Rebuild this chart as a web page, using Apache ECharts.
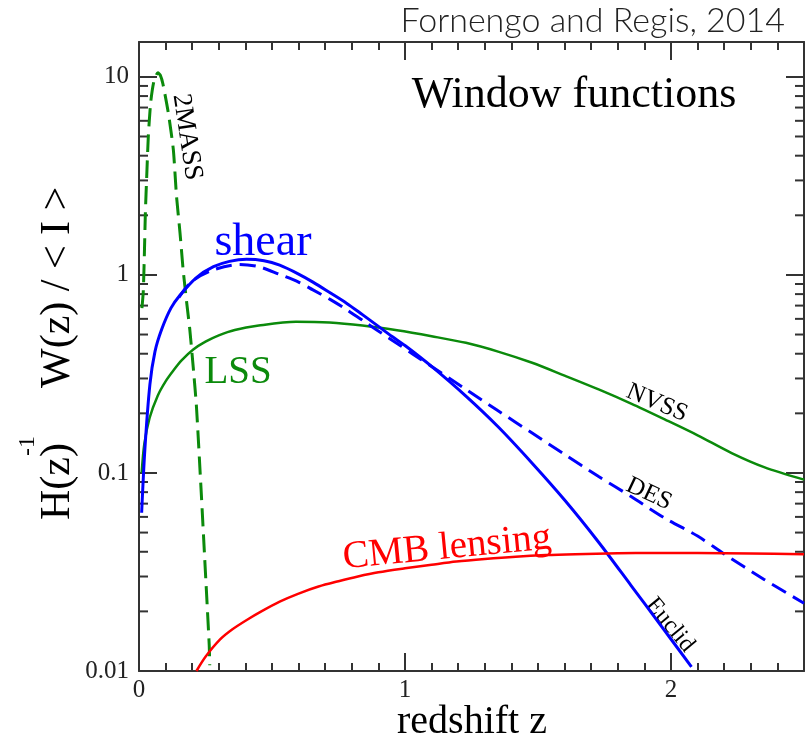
<!DOCTYPE html>
<html>
<head>
<meta charset="utf-8">
<title>Window functions</title>
<script src="https://cdn.jsdelivr.net/npm/echarts@6.0.0/dist/echarts.min.js"></script>
<style>
html, body { margin: 0; padding: 0; background: #fff; }
#main { width: 805px; height: 738px; }
</style>
</head>
<body>
<div id="main"></div>
<script>
var serif = '"Liberation Serif", "DejaVu Serif", serif';

// 2MASS (green dashed)
var massZ = [0.011, 0.016, 0.020, 0.024, 0.029, 0.035, 0.044, 0.056, 0.071, 0.080, 0.090, 0.110, 0.129, 0.141, 0.154, 0.166, 0.179, 0.191, 0.204, 0.216, 0.235, 0.247, 0.264, 0.266];
var massW = [0.68, 0.82, 1.24, 2.07, 3.14, 5.0, 7.44, 9.5, 10.5, 10.2, 9.2, 6.6, 4.3, 2.5, 1.64, 1.06, 0.73, 0.53, 0.34, 0.216, 0.075, 0.037, 0.0135, 0.0107];

// LSS / NVSS (green solid)
var lssZ = [0.01, 0.02, 0.04, 0.07, 0.1, 0.13, 0.16, 0.204, 0.25, 0.3, 0.36, 0.45, 0.59, 0.716, 0.84, 0.97, 1.1, 1.229, 1.35, 1.478, 1.6, 1.728, 1.85, 1.978, 2.1, 2.228, 2.35, 2.5];
var lssW = [0.1, 0.14, 0.19, 0.245, 0.29, 0.33, 0.37, 0.42, 0.46, 0.495, 0.527, 0.555, 0.58, 0.575, 0.555, 0.525, 0.49, 0.454, 0.41, 0.36, 0.31, 0.264, 0.224, 0.186, 0.155, 0.126, 0.107, 0.0925];

// shear, Euclid (blue solid)
var eucZ = [0.01, 0.022, 0.041, 0.06, 0.085, 0.12, 0.154, 0.216, 0.28, 0.34, 0.404, 0.47, 0.529, 0.6, 0.654, 0.72, 0.78, 0.84, 0.904, 0.95, 1.0, 1.1, 1.228, 1.35, 1.478, 1.6, 1.728, 1.85, 1.96, 2.077];
var eucW = [0.063, 0.131, 0.28, 0.41, 0.53, 0.68, 0.79, 0.97, 1.10, 1.17, 1.20, 1.18, 1.12, 1.01, 0.92, 0.81, 0.72, 0.63, 0.545, 0.49, 0.44, 0.345, 0.245, 0.171, 0.112, 0.073, 0.0447, 0.027, 0.0171, 0.0105];

// shear, DES (blue dashed)
var desZ = [0.15, 0.2, 0.28, 0.379, 0.45, 0.529, 0.6, 0.654, 0.72, 0.779, 0.85, 0.904, 0.979, 1.03, 1.09, 1.229, 1.35, 1.478, 1.6, 1.728, 1.85, 1.978, 2.1, 2.2, 2.35, 2.5];
var desW = [0.77, 0.93, 1.06, 1.13, 1.10, 1.005, 0.92, 0.84, 0.75, 0.67, 0.578, 0.516, 0.443, 0.398, 0.352, 0.264, 0.206, 0.159, 0.124, 0.0959, 0.076, 0.059, 0.048, 0.039, 0.029, 0.022];

// CMB lensing (red)
var cmbZ = [0.216, 0.25, 0.304, 0.35, 0.405, 0.46, 0.529, 0.6, 0.675, 0.75, 0.823, 0.9, 1.0, 1.1, 1.193, 1.3, 1.416, 1.53, 1.64, 1.8, 1.935, 2.1, 2.3, 2.5];
var cmbW = [0.0100, 0.0118, 0.0144, 0.0162, 0.0181, 0.0200, 0.0224, 0.0246, 0.0267, 0.0284, 0.0300, 0.0315, 0.0330, 0.0344, 0.0357, 0.0368, 0.0378, 0.0385, 0.0389, 0.0393, 0.0394, 0.0394, 0.0392, 0.0389];

// minor ticks of the log axis
var yMinor = [0.02, 0.03, 0.04, 0.05, 0.06, 0.07, 0.08, 0.09, 0.2, 0.3, 0.4, 0.5, 0.6, 0.7, 0.8, 0.9, 2, 3, 4, 5, 6, 7, 8, 9];

function pairs(xs, ys) {
	var out = [];
	for (var i = 0; i < xs.length; i++) out.push([xs[i], ys[i]]);
	return out;
}

var axisColor = '#333';
var green = '#0b8a0b';

var chart = echarts.init(document.getElementById('main'));

function xAx(pos, labels) {
	return {
		type: 'value', position: pos, min: 0, max: 2.5, interval: 1,
		axisLine: { show: true, onZero: false, lineStyle: { color: axisColor, width: 2 } },
		axisTick: { show: true, inside: true, length: 18, lineStyle: { color: axisColor, width: 2 } },
		minorTick: { show: true, splitNumber: 10, length: 8, lineStyle: { color: axisColor, width: 2 } },
		splitLine: { show: false },
		minorSplitLine: { show: false },
		axisLabel: {
			show: labels, margin: 7, showMaxLabel: false,
			fontFamily: serif, fontSize: 25, color: '#222'
		}
	};
}
function yAx(pos, labels) {
	return {
		type: 'log', logBase: 10, position: pos, min: 0.01, max: 15,
		axisLine: { show: true, onZero: false, lineStyle: { color: axisColor, width: 2 } },
		axisTick: { show: true, inside: true, length: 18, lineStyle: { color: axisColor, width: 2 } },
		splitLine: { show: false },
		axisLabel: {
			show: labels, margin: 10, showMaxLabel: false,
			fontFamily: serif, fontSize: 25, color: '#222',
			formatter: function (v) { return String(+v.toPrecision(2)); }
		}
	};
}

function label(text, x, y, size, color, rot) {
	return {
		type: 'text', x: x, y: y, rotation: rot || 0,
		style: {
			text: text, fill: color, font: size + 'px ' + serif,
			textAlign: 'center', textVerticalAlign: 'middle'
		}
	};
}

var option = {
	animation: false,
	backgroundColor: '#fff',
	grid: { left: 139, right: 1, top: 42, bottom: 67 },
	xAxis: [xAx('bottom', true), xAx('top', false)],
	yAxis: [yAx('left', true), yAx('right', false)],
	series: [
		{
			name: '2MASS', type: 'line', data: pairs(massZ, massW), smooth: 0.2,
			showSymbol: false, lineStyle: { color: green, width: 3, type: [18, 8] }
		},
		{
			name: 'LSS', type: 'line', data: pairs(lssZ, lssW), smooth: 0.3,
			showSymbol: false, lineStyle: { color: green, width: 2.5 }
		},
		{
			name: 'DES', type: 'line', data: pairs(desZ, desW), smooth: 0.3,
			showSymbol: false, lineStyle: { color: '#0000ff', width: 3, type: [16, 8] }
		},
		{
			name: 'Euclid', type: 'line', data: pairs(eucZ, eucW), smooth: 0.3,
			showSymbol: false, lineStyle: { color: '#0000ff', width: 3 }
		},
		{
			name: 'CMB lensing', type: 'line', data: pairs(cmbZ, cmbW), smooth: 0.3,
			showSymbol: false, lineStyle: { color: '#ff0000', width: 2.5 }
		},
		{
			// minor log ticks on left and right frame
			type: 'custom', silent: true, clip: false,
			data: yMinor.map(function (v) { return [0, v]; }),
			renderItem: function (params, api) {
				var p = api.coord([0, api.value(1)]);
				var cs = params.coordSys;
				var st = { stroke: axisColor, lineWidth: 2 };
				return {
					type: 'group', children: [
						{ type: 'line', shape: { x1: cs.x, y1: p[1], x2: cs.x + 9, y2: p[1] }, style: st },
						{ type: 'line', shape: { x1: cs.x + cs.width - 9, y1: p[1], x2: cs.x + cs.width, y2: p[1] }, style: st }
					]
				};
			}
		}
	],
	graphic: [
		{
			type: 'text', x: 785, y: 21,
			style: { text: 'Fornengo and Regis, 2014', fill: '#222', font: '300 34px Lato, "Open Sans", sans-serif', textAlign: 'right', textVerticalAlign: 'middle' }
		},
		label('Window functions', 574, 95, 44, '#000'),
		label('redshift z', 472, 722, 40, '#000'),
		{
			type: 'text', x: 58, y: 520, rotation: Math.PI / 2,
			style: { text: 'H(z)', fill: '#000', font: '42px ' + serif, textAlign: 'left', textVerticalAlign: 'middle' }
		},
		{
			type: 'text', x: 28, y: 456, rotation: Math.PI / 2,
			style: { text: '-1', fill: '#000', font: '24px ' + serif, textAlign: 'left', textVerticalAlign: 'middle' }
		},
		{
			type: 'text', x: 58, y: 388, rotation: Math.PI / 2,
			style: { text: 'W(z) / < I >', fill: '#000', font: '42px ' + serif, textAlign: 'left', textVerticalAlign: 'middle' }
		},
		label('2MASS', 187, 137, 27, '#000', -1.42),
		label('shear', 263, 243, 46, '#0000ff'),
		label('LSS', 238, 373, 39, green),
		label('NVSS', 657, 403, 25, '#000', -0.4),
		label('DES', 649, 494, 25, '#000', -0.44),
		label('Euclid', 670, 625, 24, '#000', -0.88),
		label('CMB lensing', 447, 548, 39, '#ff0000', 0.096)
	]
};

chart.setOption(option);
</script>
</body>
</html>
